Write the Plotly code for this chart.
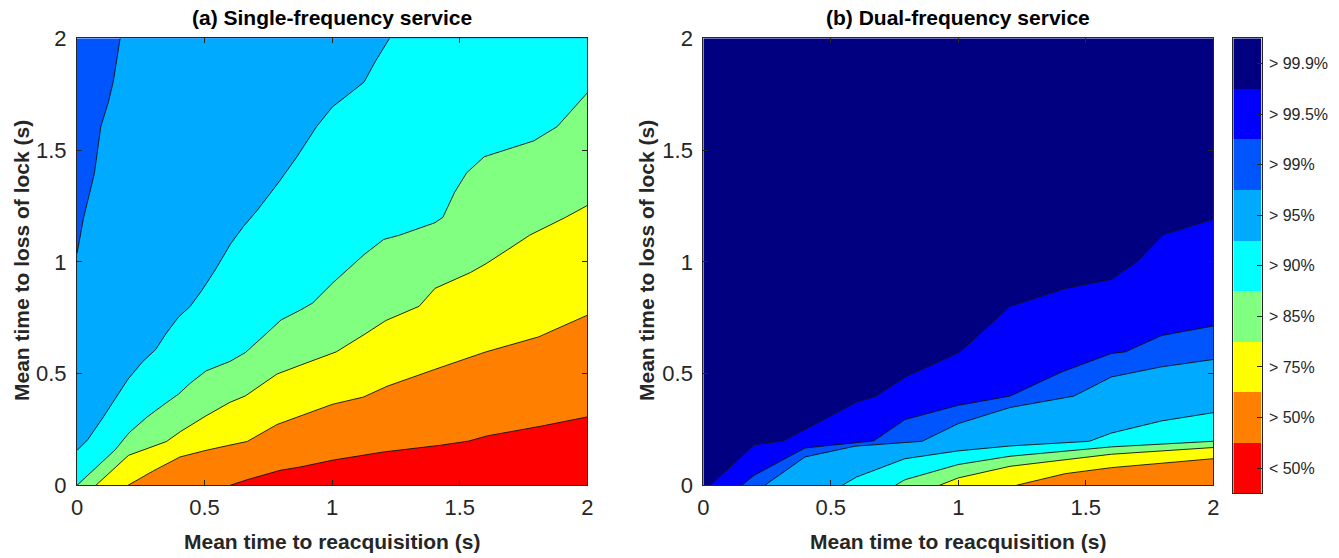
import plotly.graph_objects as go

# ---------------- data ----------------
X_RANGE = [0, 2]
Y_RANGE = [0, 2]
tick_vals = [0, 0.5, 1, 1.5, 2]
tick_text = ["0", "0.5", "1", "1.5", "2"]

level_labels = ["< 50%", "> 50%", "> 75%", "> 85%", "> 90%", "> 95%", "> 99%", "> 99.5%", "> 99.9%"]
level_colors = ["#FF0000", "#FF8000", "#FFFF00", "#80FF80", "#00FFFF", "#00AAFF", "#0055FF", "#0000FF", "#000080"]

# (a) single-frequency: contour boundaries, from upper-left to lower-right
sf_99_x = [0, 0.025, 0.068, 0.093, 0.123, 0.142, 0.169]
sf_99_y = [1.037, 1.193, 1.395, 1.603, 1.715, 1.805, 2.0]
sf_95_x = [0, 0.042, 0.104, 0.150, 0.200, 0.258, 0.308, 0.351, 0.398, 0.444, 0.490, 0.544,
           0.602, 0.653, 0.707, 0.792, 0.862, 0.939, 1.001, 1.063, 1.125, 1.171, 1.225]
sf_95_y = [0.156, 0.204, 0.307, 0.387, 0.475, 0.554, 0.607, 0.682, 0.753, 0.801, 0.873, 0.968,
           1.080, 1.159, 1.231, 1.358, 1.470, 1.605, 1.693, 1.748, 1.804, 1.900, 2.0]
sf_90_x = [0, 0.067, 0.149, 0.204, 0.274, 0.351, 0.398, 0.444, 0.506, 0.599, 0.660, 0.722, 0.800,
           0.877, 0.923, 1.001, 1.094, 1.125, 1.202, 1.264, 1.403, 1.434, 1.480, 1.527, 1.596,
           1.712, 1.790, 1.882, 2.0]
sf_90_y = [0, 0.070, 0.158, 0.235, 0.305, 0.370, 0.408, 0.457, 0.512, 0.554, 0.594, 0.658, 0.740,
           0.785, 0.815, 0.904, 1.0, 1.032, 1.100, 1.119, 1.175, 1.199, 1.311, 1.398, 1.470,
           1.514, 1.541, 1.605, 1.756]
sf_85_x = [0.074, 0.202, 0.351, 0.405, 0.506, 0.599, 0.660, 0.784, 0.877, 1.016, 1.125, 1.210,
           1.341, 1.403, 1.542, 1.604, 1.712, 1.774, 1.915, 2.0]
sf_85_y = [0, 0.134, 0.196, 0.240, 0.311, 0.371, 0.400, 0.498, 0.538, 0.597, 0.674, 0.737,
           0.801, 0.881, 0.952, 0.992, 1.072, 1.119, 1.199, 1.252]
sf_75_x = [0.2, 0.3, 0.404, 0.508, 0.6, 0.667, 0.784, 0.875, 1.0, 1.123, 1.215, 1.411, 1.6, 1.809, 2.0]
sf_75_y = [0, 0.065, 0.127, 0.157, 0.18, 0.196, 0.272, 0.31, 0.362, 0.395, 0.443, 0.522, 0.596, 0.664, 0.761]
sf_50_x = [0.6, 0.667, 0.796, 0.875, 1.0, 1.2, 1.424, 1.535, 1.607, 1.816, 2.0]
sf_50_y = [0, 0.025, 0.067, 0.082, 0.112, 0.149, 0.179, 0.198, 0.221, 0.264, 0.306]

# (b) dual-frequency
df_999_x = [0.027, 0.2, 0.314, 0.405, 0.601, 0.676, 0.797, 1.007, 1.203, 1.419, 1.601, 1.703, 1.804, 2.0]
df_999_y = [0, 0.182, 0.199, 0.254, 0.373, 0.399, 0.488, 0.597, 0.801, 0.881, 0.922, 1.003, 1.122, 1.191]
df_995_x = [0.151, 0.2, 0.399, 0.527, 0.669, 0.791, 1.0, 1.203, 1.405, 1.601, 1.655, 1.797, 2.0]
df_995_y = [0, 0.045, 0.167, 0.182, 0.199, 0.294, 0.358, 0.399, 0.507, 0.590, 0.597, 0.670, 0.713]
df_99_x = [0.241, 0.399, 0.595, 0.858, 1.0, 1.203, 1.453, 1.601, 1.797, 2.0]
df_99_y = [0, 0.127, 0.175, 0.197, 0.276, 0.348, 0.399, 0.485, 0.530, 0.563]
df_95_x = [0.545, 0.601, 0.791, 1.0, 1.203, 1.514, 1.601, 1.797, 2.0]
df_95_y = [0, 0.037, 0.119, 0.154, 0.176, 0.197, 0.234, 0.288, 0.325]
df_90_x = [0.753, 0.791, 1.0, 1.203, 1.601, 2.0]
df_90_y = [0, 0.025, 0.093, 0.130, 0.172, 0.197]
df_85_x = [0.926, 1.0, 1.203, 1.601, 2.0]
df_85_y = [0, 0.033, 0.085, 0.139, 0.169]
df_75_x = [1.228, 1.419, 1.601, 1.797, 2.0]
df_75_y = [0, 0.052, 0.079, 0.100, 0.119]

# ---------------- layout geometry (pixels) ----------------
W, H = 1339, 558
def px(x): return x / W
def py(y): return 1 - y / H

AX_TOP, AX_BOT = 38.3, 485.3
LEFT_DOM = [px(77), px(587.3)]
RIGHT_DOM = [px(703.3), px(1213.3)]
CB_DOM_X = [px(1233.3), px(1261.7)]
CB_DOM_Y = [py(493.3), py(38.3)]

AXC = "#262626"
FONT = "Liberation Sans, Arial, Helvetica, sans-serif"

fig = go.Figure()


def region_polygon(bx, by):
    """Region lying below / right of a boundary, closed along the axes frame."""
    xs, ys = list(bx), list(by)
    if ys[-1] >= Y_RANGE[1]:
        xs.append(X_RANGE[1]); ys.append(Y_RANGE[1])
    xs.append(X_RANGE[1]); ys.append(Y_RANGE[0])
    if xs[0] <= X_RANGE[0] and ys[0] > Y_RANGE[0]:
        xs.append(X_RANGE[0]); ys.append(Y_RANGE[0])
    return xs, ys


def add_panel(xa, ya, base_color, boundaries):
    # background level
    fig.add_trace(go.Scatter(x=[X_RANGE[0], X_RANGE[1], X_RANGE[1], X_RANGE[0]],
                             y=[Y_RANGE[0], Y_RANGE[0], Y_RANGE[1], Y_RANGE[1]],
                             fill="toself", fillcolor=base_color, mode="lines",
                             line=dict(width=0), xaxis=xa, yaxis=ya,
                             showlegend=False, hoverinfo="skip"))
    for bx, by, col in boundaries:
        xs, ys = region_polygon(bx, by)
        fig.add_trace(go.Scatter(x=xs, y=ys, fill="toself", fillcolor=col, mode="lines",
                                 line=dict(width=0), xaxis=xa, yaxis=ya,
                                 showlegend=False, hoverinfo="skip"))
    for bx, by, col in boundaries:
        fig.add_trace(go.Scatter(x=bx, y=by, mode="lines",
                                 line=dict(color="#111111", width=0.9),
                                 xaxis=xa, yaxis=ya, showlegend=False, hoverinfo="skip"))


c = dict(zip(level_labels, level_colors))
add_panel("x", "y", c["> 99%"], [
    (sf_99_x, sf_99_y, c["> 95%"]),
    (sf_95_x, sf_95_y, c["> 90%"]),
    (sf_90_x, sf_90_y, c["> 85%"]),
    (sf_85_x, sf_85_y, c["> 75%"]),
    (sf_75_x, sf_75_y, c["> 50%"]),
    (sf_50_x, sf_50_y, c["< 50%"]),
])
add_panel("x2", "y2", c["> 99.9%"], [
    (df_999_x, df_999_y, c["> 99.5%"]),
    (df_995_x, df_995_y, c["> 99%"]),
    (df_99_x, df_99_y, c["> 95%"]),
    (df_95_x, df_95_y, c["> 90%"]),
    (df_90_x, df_90_y, c["> 85%"]),
    (df_85_x, df_85_y, c["> 75%"]),
    (df_75_x, df_75_y, c["> 50%"]),
])

# colour bar built as a one-column heatmap
n = len(level_labels)
cscale = []
for i, col in enumerate(level_colors):
    cscale.append([i / n, col])
    cscale.append([(i + 1) / n, col])
fig.add_trace(go.Heatmap(z=[[i] for i in range(n)], x=[0], y=list(range(n)),
                         colorscale=cscale, zmin=-0.5, zmax=n - 0.5, showscale=False,
                         xaxis="x3", yaxis="y3", hoverinfo="skip"))

axis_common = dict(range=X_RANGE, tickvals=tick_vals, ticktext=tick_text,
                   ticks="inside", ticklen=5, tickwidth=1, tickcolor=AXC,
                   showline=True, linecolor=AXC, linewidth=1, mirror="ticks",
                   showgrid=False, zeroline=False,
                   tickfont=dict(family=FONT, size=22, color=AXC))

fig.update_layout(
    width=W, height=H, margin=dict(l=0, r=0, t=0, b=0, pad=0, autoexpand=False),
    paper_bgcolor="white", plot_bgcolor="white",
    xaxis=dict(domain=LEFT_DOM, anchor="y", ticklabelstandoff=2, **axis_common),
    yaxis=dict(domain=[py(AX_BOT), py(AX_TOP)], anchor="x", ticklabelstandoff=5, **axis_common),
    xaxis2=dict(domain=RIGHT_DOM, anchor="y2", ticklabelstandoff=2, **axis_common),
    yaxis2=dict(domain=[py(AX_BOT), py(AX_TOP)], anchor="x2", ticklabelstandoff=5, **axis_common),
    xaxis3=dict(domain=CB_DOM_X, anchor="y3", range=[-0.5, 0.5], showticklabels=False, ticks="",
                showline=True, linecolor=AXC, linewidth=1, mirror=True, showgrid=False, zeroline=False),
    yaxis3=dict(domain=CB_DOM_Y, anchor="x3", side="right", range=[-0.5, n - 0.5],
                tickvals=list(range(n)), ticktext=level_labels, ticks="inside", ticklen=5,
                tickcolor=AXC, showline=True, linecolor=AXC, linewidth=1, mirror=True,
                showgrid=False, zeroline=False, ticklabelstandoff=3,
                tickfont=dict(family=FONT, size=16, color=AXC)),
)

title_font = dict(family=FONT, size=21, color="#000000")
label_font = dict(family=FONT, size=21, color=AXC)
ann = [
    dict(x=px(332), y=py(18), text="<b>(a) Single-frequency service</b>", font=title_font),
    dict(x=px(958), y=py(18), text="<b>(b) Dual-frequency service</b>", font=title_font),
    dict(x=px(332), y=py(541), text="<b>Mean time to reacquisition (s)</b>", font=label_font),
    dict(x=px(958), y=py(541), text="<b>Mean time to reacquisition (s)</b>", font=label_font),
    dict(x=px(21), y=py(261), text="<b>Mean time to loss of lock (s)</b>", font=label_font, textangle=-90),
    dict(x=px(646), y=py(261), text="<b>Mean time to loss of lock (s)</b>", font=label_font, textangle=-90),
]
for a in ann:
    fig.add_annotation(xref="paper", yref="paper", showarrow=False,
                       xanchor="center", yanchor="middle", **a)

fig.write_html("out.html")
